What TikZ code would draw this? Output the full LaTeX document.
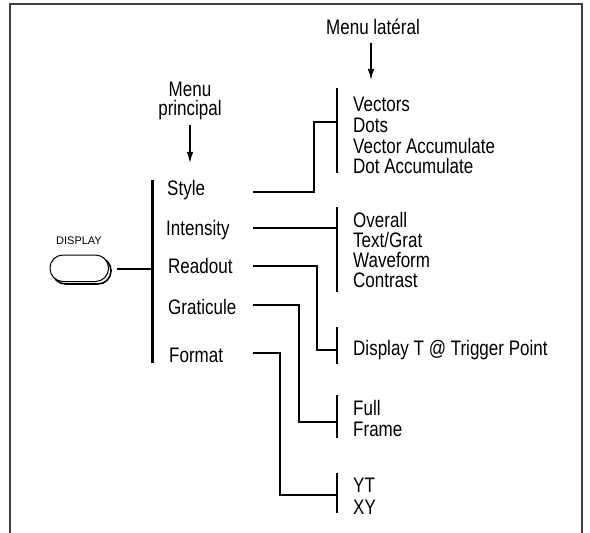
\documentclass[tikz,border=0pt]{standalone}
\usepackage{fontspec}
\setmainfont{Liberation Sans}[FakeStretch=0.81]
\newfontfamily\plainsans{Liberation Sans}
\usetikzlibrary{arrows.meta}
\newcommand{\itemfont}{\fontsize{21bp}{21bp}\selectfont}
\newcommand{\btnfont}{\plainsans\fontsize{11bp}{11bp}\selectfont}
\tikzset{
  menuitem/.style={anchor=base west, inner sep=0pt, font=\itemfont},
  menutitle/.style={anchor=base, inner sep=0pt, font=\itemfont},
  wire/.style={line width=2.2bp, line join=miter, line cap=butt},
  tick/.style={line width=2.2bp},
  pointer/.style={line width=1.3bp, -{Latex[length=11bp,width=6.5bp]}},
  frameline/.style={line width=1.6bp, draw=black!75}
}
\begin{document}
\begin{tikzpicture}[x=1bp,y=-1bp]
\useasboundingbox (0,0) rectangle (590,533);
% frame (open at the bottom)
\draw[frameline] (10,540) -- (10,4) -- (582,4) -- (582,540);

% titles
\node[menutitle] (tlat) at (373,34.5) {Menu latéral};
\coordinate (alat1) at (371,43);
\coordinate (alat2) at (371,80);
\draw[pointer] (alat1) -- (alat2);
\node[menutitle] (tprin1) at (190,96.5) {Menu};
\node[menutitle] (tprin2) at (190,115.5) {principal};
\coordinate (apr1) at (190,125);
\coordinate (apr2) at (190,163);
\draw[pointer] (apr1) -- (apr2);

% DISPLAY button
\node[anchor=base, inner sep=0pt, font=\btnfont] (dlab) at (79,244) {DISPLAY};
\draw[line width=1.6bp, rounded corners=13bp] (52.5,257.5) rectangle (111,284);
\draw[line width=1bp, fill=white, rounded corners=13bp] (50,255) rectangle (108.5,281.5);
\coordinate (btn) at (117,269);

% main menu bar
\coordinate (mtop) at (152.5,180);
\coordinate (mbot) at (152.5,363);
\coordinate (mjoin) at (152.5,269);
\draw[tick] (mtop) -- (mbot);
\draw[wire] (btn) -- (mjoin);

\node[menuitem] (m1) at (167,195.5) {Style};
\node[menuitem] (m2) at (166,235.5) {Intensity};
\node[menuitem] (m3) at (168,273.5) {Readout};
\node[menuitem] (m4) at (168,314.5) {Graticule};
\node[menuitem] (m5) at (169,362.5) {Format};

% side menu bars
\coordinate (s1t) at (337,88);  \coordinate (s1b) at (337,173);
\coordinate (s2t) at (337,207); \coordinate (s2b) at (337,292);
\coordinate (s3t) at (337,327); \coordinate (s3b) at (337,364);
\coordinate (s4t) at (337,395); \coordinate (s4b) at (337,438);
\coordinate (s5t) at (337,473); \coordinate (s5b) at (337,513);
\foreach \a/\b in {s1t/s1b,s2t/s2b,s3t/s3b,s4t/s4b,s5t/s5b}
  \draw[tick] (\a) -- (\b);

% side menu texts
\node[menuitem] (v1) at (353,111.5) {Vectors};
\node[menuitem] (v2) at (353,132.5) {Dots};
\node[menuitem] (v3) at (353,153.5) {Vector Accumulate};
\node[menuitem] (v4) at (353,173.5) {Dot Accumulate};
\node[menuitem] (i1) at (353,227.5) {Overall};
\node[menuitem] (i2) at (353,247.5) {Text/Grat};
\node[menuitem] (i3) at (353,267.5) {Waveform};
\node[menuitem] (i4) at (353,287.5) {Contrast};
\node[menuitem] (r1) at (353,355.5) {Display T @ Trigger Point};
\node[menuitem] (g1) at (353,415.5) {Full};
\node[menuitem] (g2) at (353,436.5) {Frame};
\node[menuitem] (f1) at (353,492.5) {YT};
\node[menuitem] (f2) at (353,514.5) {XY};

% connectors
\coordinate (c1) at (253,192); \coordinate (e1) at (337,122);
\coordinate (c2) at (253,228); \coordinate (e2) at (337,228);
\coordinate (c3) at (253,266); \coordinate (e3) at (337,350);
\coordinate (c4) at (253,305); \coordinate (e4) at (337,422);
\coordinate (c5) at (253,353); \coordinate (e5) at (337,495);
\draw[wire] (c1) -- (314,192) |- (e1);
\draw[wire] (c2) -- (e2);
\draw[wire] (c3) -- (317,266) |- (e3);
\draw[wire] (c4) -- (299,305) |- (e4);
\draw[wire] (c5) -- (280,353) |- (e5);
\end{tikzpicture}
\end{document}
